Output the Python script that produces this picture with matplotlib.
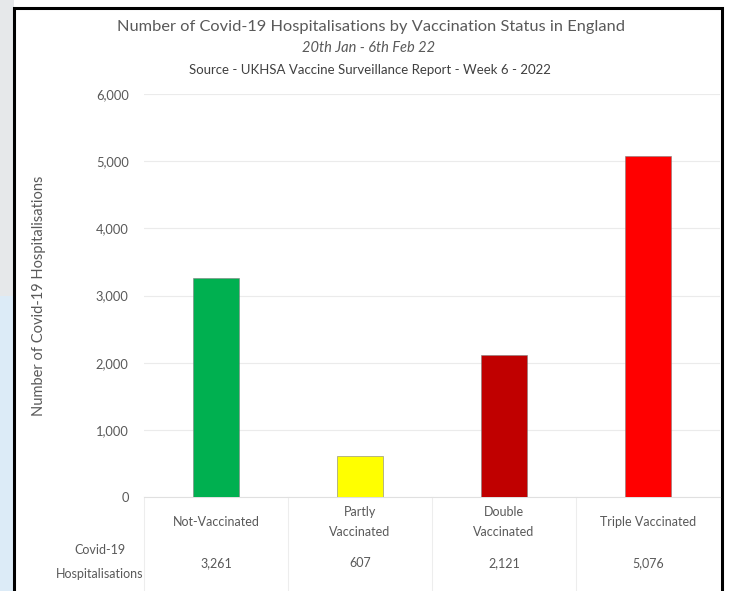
import matplotlib.pyplot as plt
from matplotlib.patches import Rectangle
from matplotlib.lines import Line2D
import matplotlib.transforms as mtransforms

categories = ['Not-Vaccinated', 'Partly\nVaccinated', 'Double\nVaccinated', 'Triple Vaccinated']
values = [3261, 607, 2121, 5076]
bar_colors = ['#00b050', '#ffff00', '#c00000', '#ff0000']
yticks = [0, 1000, 2000, 3000, 4000, 5000, 6000]

plt.rcParams['font.family'] = ['Lato', 'DejaVu Sans']
grey = '#595959'

W, H = 738, 591
fig = plt.figure(figsize=(W / 100, H / 100), dpi=100)

# left background strip and black frame
fig.patches.append(Rectangle((0, 0.5), 14 / W, 0.5, transform=fig.transFigure,
                             facecolor='#e6e8ea', edgecolor='none', zorder=-2))
fig.patches.append(Rectangle((0, 0), 14 / W, 0.5, transform=fig.transFigure,
                             facecolor='#dcebf7', edgecolor='none', zorder=-2))
fig.patches.append(Rectangle((14 / W, -0.02), (722 - 14) / W, 1 - 8 / H + 0.02,
                             transform=fig.transFigure, facecolor='white',
                             edgecolor='black', linewidth=2.2, zorder=-1))

ax = fig.add_axes([144 / W, 1 - 497 / H, (720 - 144) / W, (497 - 94) / H])
ax.set_zorder(2)
ax.set_facecolor('none')
x = range(len(values))
ax.bar(x, values, width=0.32, color=bar_colors, edgecolor='#7f7f7f', linewidth=0.4, zorder=3)
ax.set_xlim(-0.5, 3.5)
ax.set_ylim(0, 6000)
ax.set_yticks(yticks)
ax.set_yticklabels([f'{v:,}' for v in yticks], color=grey, fontsize=9.3)
ax.tick_params(axis='y', length=0, pad=11)
ax.set_xticks([])
ax.grid(axis='y', color='#ebebeb', linewidth=0.8, zorder=0)
for s in ax.spines.values():
    s.set_visible(False)
ax.set_ylabel('Number of Covid-19 Hospitalisations', color=grey, fontsize=10.5, labelpad=36)

# category labels and data table under the chart
trans = mtransforms.blended_transform_factory(ax.transData, fig.transFigure)
for i, (c, v) in enumerate(zip(categories, values)):
    ax.text(i, 1 - 522 / H, c, transform=trans, ha='center', va='center',
            color=grey, fontsize=9, linespacing=1.7)
    ax.text(i, 1 - 563 / H, f'{v:,}', transform=trans, ha='center', va='center',
            color=grey, fontsize=9)
fig.text(100 / W, 1 - 562 / H, 'Covid-19\nHospitalisations', ha='center', va='center',
         color=grey, fontsize=9, linespacing=2.1)
for xb in [144, 288, 432, 576]:
    fig.add_artist(Line2D([xb / W, xb / W], [0, 1 - 497 / H], transform=fig.transFigure,
                          color='#ededed', linewidth=0.8))
fig.add_artist(Line2D([144 / W, 720 / W], [1 - 497 / H, 1 - 497 / H], transform=fig.transFigure,
                      color='#e0e0e0', linewidth=0.8))

# titles
fig.text(371 / W, 1 - 27 / H, 'Number of Covid-19 Hospitalisations by Vaccination Status in England',
         ha='center', va='center', color=grey, fontsize=11.8)
fig.text(369 / W, 1 - 48 / H, '20th Jan - 6th Feb 22', ha='center', va='center',
         color=grey, fontsize=10.5, style='italic')
fig.text(370 / W, 1 - 70 / H, 'Source - UKHSA Vaccine Surveillance Report - Week 6 - 2022',
         ha='center', va='center', color='#404040', fontsize=9.5)

fig.savefig('out.png', dpi=100)
